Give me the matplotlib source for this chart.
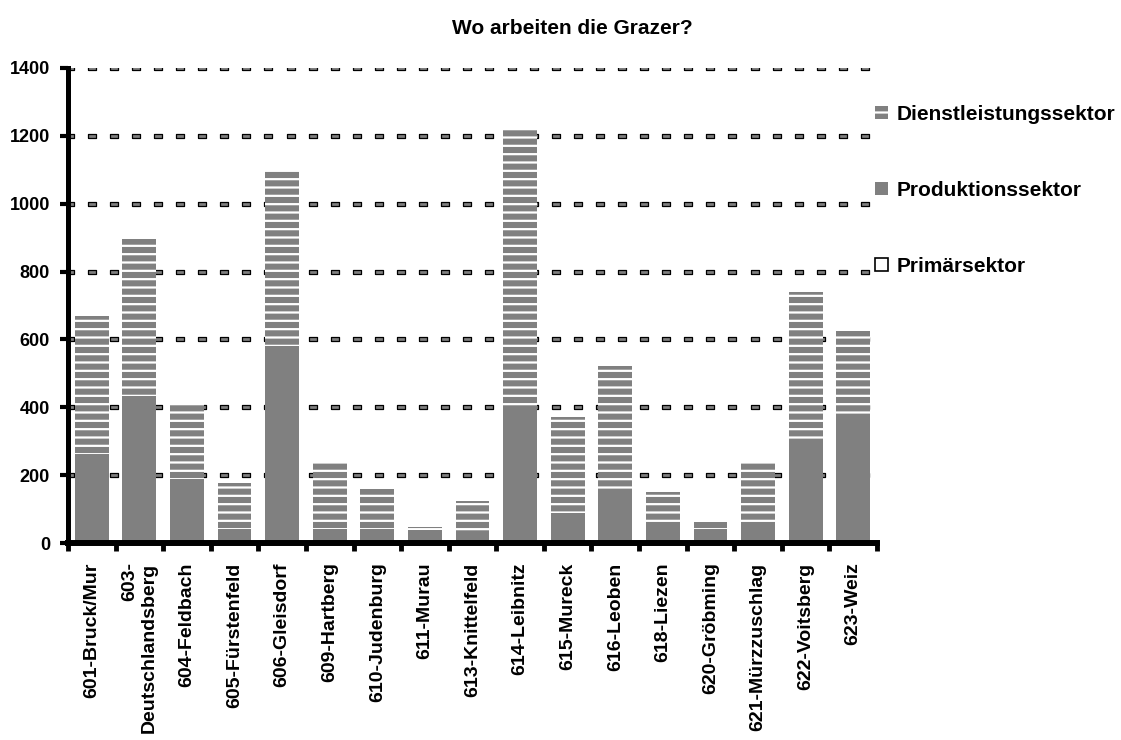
import numpy as np
import matplotlib
matplotlib.use("Agg")
from matplotlib import pyplot as plt
from matplotlib.patches import Patch

plt.rcParams['font.family'] = ['Liberation Sans', 'DejaVu Sans']
plt.rcParams['font.weight'] = 'bold'
plt.rcParams['hatch.linewidth'] = 1.6

# Bezirke (Pendlerziele der Grazer)
bezirke = ['601-Bruck/Mur', '603-\nDeutschlandsberg', '604-Feldbach', '605-Fürstenfeld',
           '606-Gleisdorf', '609-Hartberg', '610-Judenburg', '611-Murau', '613-Knittelfeld',
           '614-Leibnitz', '615-Mureck', '616-Leoben', '618-Liezen', '620-Gröbming',
           '621-Mürzzuschlag', '622-Voitsberg', '623-Weiz']

primaer = [2, 3, 2, 1, 2, 2, 1, 1, 1, 3, 2, 2, 1, 1, 1, 2, 2]
produktion = [260, 430, 188, 40, 580, 40, 40, 38, 19, 400, 85, 150, 46, 40, 60, 306, 370]
dienstleistung = [408, 462, 220, 135, 514, 194, 118, 9, 105, 814, 284, 370, 103, 21, 175, 432, 253]

yticks = [0, 200, 400, 600, 800, 1000, 1200, 1400]

grau = '#808080'

fig = plt.figure(figsize=(11.21, 7.40), dpi=100)
ax = fig.add_axes([68 / 1121, 1 - 543 / 740, (877 - 68) / 1121, (543 - 68) / 740])

x = np.arange(len(bezirke))
w = 0.71
prim = np.array(primaer)
prod = np.array(produktion)
dien = np.array(dienstleistung)

ax.bar(x, prim, w, color='white', linewidth=0, zorder=3)
ax.bar(x, prod, w, bottom=prim, color=grau, linewidth=0, zorder=3)
ax.bar(x, dien, w, bottom=prim + prod, color=grau, edgecolor='white',
       linewidth=0, hatch='--', zorder=3)

# Gitterlinien aus kleinen Rechtecken (schwarzer Rand, grauer Kern)
px_per_unit = (877 - 68) / len(bezirke)
dash_x = np.arange(-0.5 + 1.5 / px_per_unit, len(bezirke) - 0.5, 22.1 / px_per_unit)
rect = [(-1, -0.56), (1, -0.56), (1, 0.56), (-1, 0.56), (-1, -0.56)]
for yv in yticks[1:]:
    ax.plot(dash_x, np.full(len(dash_x), yv), linestyle='none', marker=rect,
            markersize=8.7 * 0.72, markerfacecolor=grau, markeredgecolor='black',
            markeredgewidth=0.9, zorder=1)

ax.set_xlim(-0.5, len(bezirke) - 0.5)
ax.set_ylim(0, 1400)
ax.set_yticks(yticks)
ax.set_yticklabels([str(v) for v in yticks], fontsize=13, fontweight='bold')

ax.set_xticks(x)
ax.set_xticklabels(bezirke, rotation=90, ha='center', va='top', multialignment='right',
                   fontsize=14, fontweight='bold')
ax.set_xticks(np.arange(-0.5, len(bezirke)), minor=True)
ax.tick_params(axis='x', which='major', length=0, pad=14)
ax.tick_params(axis='x', which='minor', length=6, width=3.5, direction='out')
ax.tick_params(axis='y', length=6, width=3, direction='out', pad=7)

for s in ['top', 'right']:
    ax.spines[s].set_visible(False)
ax.spines['left'].set_linewidth(3.6)
ax.spines['bottom'].set_linewidth(4.3)
ax.spines['left'].set_capstyle('projecting')
ax.spines['bottom'].set_capstyle('projecting')
ax.spines['left'].set_zorder(5)
ax.spines['bottom'].set_zorder(5)

fig.text(572 / 1121, 1 - 29 / 740, 'Wo arbeiten die Grazer?', ha='center', va='center',
         fontsize=15, fontweight='bold')

handles = [Patch(facecolor=grau, edgecolor='white', linewidth=0, hatch='--'),
           Patch(facecolor=grau, linewidth=0),
           Patch(facecolor='white', edgecolor='black', linewidth=1.2)]
labels = ['Dienstleistungssektor', 'Produktionssektor', 'Primärsektor']
fig.legend(handles, labels, loc='upper left', bbox_to_anchor=(875 / 1121, 1 - 105 / 740),
           frameon=False, borderpad=0, borderaxespad=0, handlelength=0.6, handleheight=0.6,
           handletextpad=0.45, labelspacing=2.73, prop={'size': 15, 'weight': 'bold'})

fig.savefig('out.png', dpi=100)
